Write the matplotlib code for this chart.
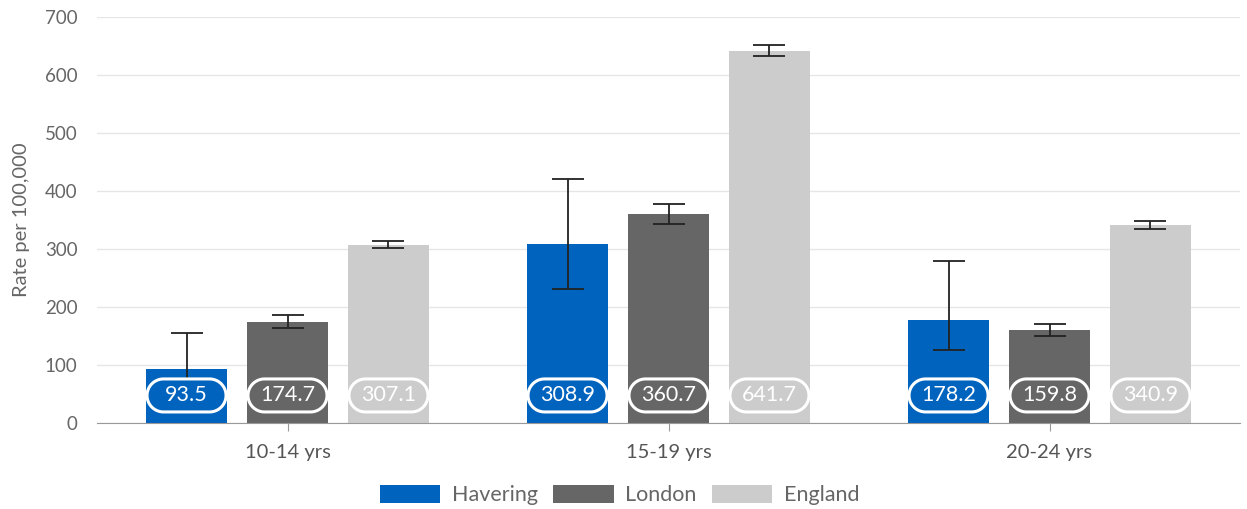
import matplotlib
matplotlib.use("Agg")
import matplotlib.pyplot as plt
from matplotlib.patches import Polygon
from matplotlib.transforms import Affine2D, ScaledTranslation
import numpy as np

categories = ["10-14 yrs", "15-19 yrs", "20-24 yrs"]
series = ["Havering", "London", "England"]
values = {
    "Havering": [93.5, 308.9, 178.2],
    "London": [174.7, 360.7, 159.8],
    "England": [307.1, 641.7, 340.9],
}
lower_ci = {
    "Havering": [55.0, 231.0, 126.0],
    "London": [164.5, 343.5, 150.0],
    "England": [301.0, 632.0, 334.5],
}
upper_ci = {
    "Havering": [155.0, 421.0, 280.0],
    "London": [185.5, 378.0, 170.0],
    "England": [313.0, 651.0, 347.5],
}
colors = {"Havering": "#0063be", "London": "#666666", "England": "#cccccc"}

plt.rcParams['font.family'] = ['Lato', 'DejaVu Sans']

W, H = 1247, 509
fig = plt.figure(figsize=(W / 100, H / 100), dpi=100)
ax_l, ax_r, ax_b, ax_t = 97, 1240, 86, 492
ax = fig.add_axes([ax_l / W, ax_b / H, (ax_r - ax_l) / W, (ax_t - ax_b) / H])

ax.set_xlim(-0.5, 2.5)
ax.set_ylim(0, 700)

# pill shape in pixel units, centred on origin
box_w, box_h = 79, 33
r = box_h / 2
cx = box_w / 2 - r
t1 = np.linspace(-np.pi / 2, np.pi / 2, 40)
t2 = np.linspace(np.pi / 2, 3 * np.pi / 2, 40)
pill = np.vstack([
    np.column_stack([cx + r * np.cos(t1), r * np.sin(t1)]),
    np.column_stack([-cx + r * np.cos(t2), r * np.sin(t2)]),
])

x = np.arange(len(categories))
offset = 0.265
width = 0.213
label_y = 47.5
for i, s in enumerate(series):
    xs = x + (i - 1) * offset
    vals = np.array(values[s])
    ax.bar(xs, vals, width=width, color=colors[s], label=s, zorder=2)
    yerr = [vals - np.array(lower_ci[s]), np.array(upper_ci[s]) - vals]
    ax.errorbar(xs, vals, yerr=yerr, fmt='none', ecolor='#222222',
                elinewidth=1.3, capsize=11.5, capthick=1.3, zorder=3)
    for xi, v in zip(xs, vals):
        tr = Affine2D().scale(fig.dpi / 100) + ScaledTranslation(xi, label_y, ax.transData)
        patch = Polygon(pill, closed=True, facecolor=colors[s], edgecolor='white',
                        linewidth=2.2, zorder=4, transform=tr)
        ax.add_patch(patch)
        ax.text(xi, label_y + 1.5, f"{v:.1f}", ha='center', va='center',
                color='white', fontsize=15.5, zorder=5)

ax.set_yticks(range(0, 701, 100))
ax.set_xticks(x)
ax.set_xticklabels(categories)
ax.grid(axis='y', color='#e6e6e6', linewidth=1, zorder=0)
ax.set_axisbelow(True)
for sp in ['top', 'right', 'left']:
    ax.spines[sp].set_visible(False)
ax.spines['bottom'].set_color('#999999')
ax.tick_params(axis='y', length=0, labelsize=13.5, labelcolor='#666666', pad=14)
ax.tick_params(axis='x', length=6, color='#999999', labelsize=14.5,
               labelcolor='#555555', pad=9)
ax.set_ylabel("Rate per 100,000", fontsize=14.5, color='#666666', labelpad=11)

leg = fig.legend(loc='center', bbox_to_anchor=(0.497, 1 - 495 / H), ncol=3,
                 frameon=False, fontsize=15.5, handlelength=2.8, handleheight=0.95,
                 columnspacing=0.7, handletextpad=0.55, labelcolor='#666666')

fig.savefig("out.png", dpi=100)
